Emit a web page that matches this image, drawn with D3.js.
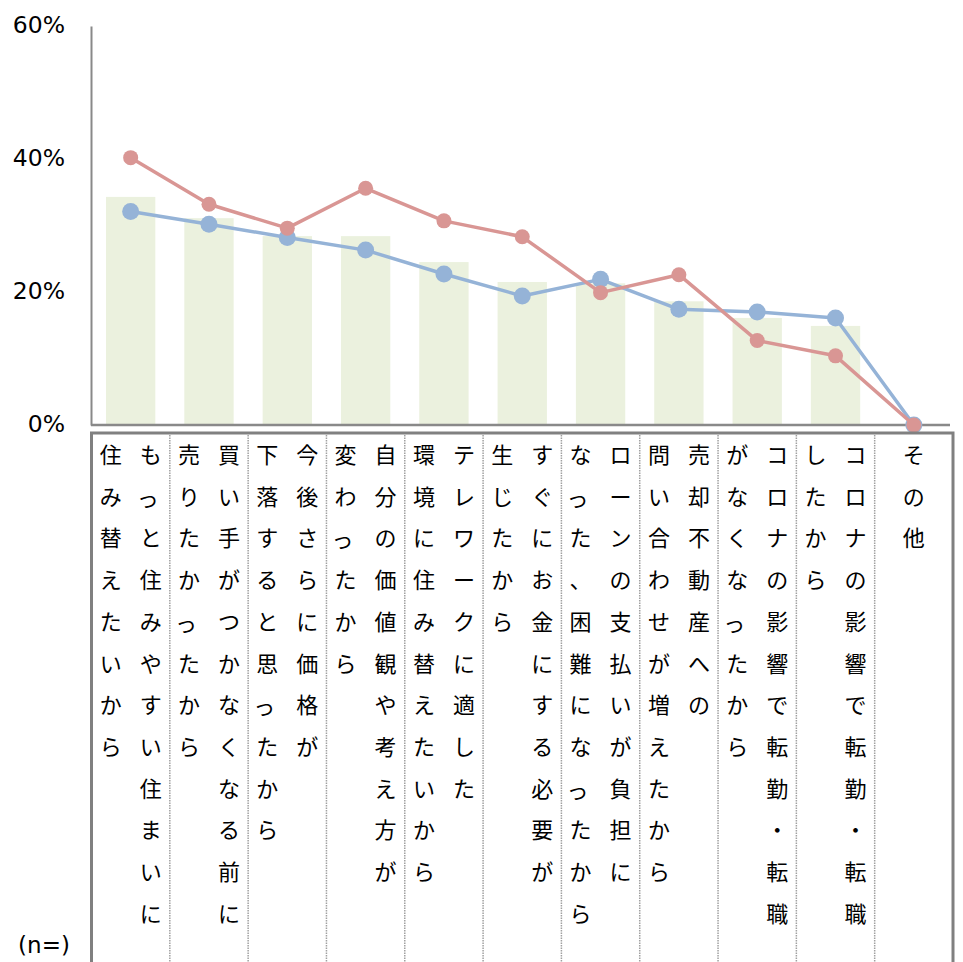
<!DOCTYPE html>
<html><head><meta charset="utf-8">
<script src="https://cdn.jsdelivr.net/npm/d3@7/dist/d3.min.js"></script>
<style>
html,body{margin:0;padding:0;background:#fff;overflow:hidden;}
svg{display:block;}
</style>
</head><body>
<svg id="chart" width="963" height="962"></svg>
<script>
// categories: each entry = [right column, left column] (read right column first)
const categories = [
  ["もっと住みやすい住まいに", "住み替えたいから"],
  ["買い手がつかなくなる前に", "売りたかったから"],
  ["今後さらに価格が", "下落すると思ったから"],
  ["自分の価値観や考え方が", "変わったから"],
  ["テレワークに適した", "環境に住み替えたいから"],
  ["すぐにお金にする必要が", "生じたから"],
  ["ローンの支払いが負担に", "なった、困難になったから"],
  ["売却不動産への", "問い合わせが増えたから"],
  ["コロナの影響で転勤・転職", "がなくなったから"],
  ["コロナの影響で転勤・転職", "したから"],
  ["その他"]
];
const barValues  = [34.3, 31.1, 28.4, 28.4, 24.5, 21.5, 21.3, 18.6, 16.1, 14.9, 0];
const redValues  = [40.2, 33.2, 29.6, 35.6, 30.7, 28.3, 19.9, 22.6, 12.7, 10.4, 0];
const blueValues = [32.1, 30.2, 28.2, 26.3, 22.7, 19.4, 21.9, 17.4, 17.0, 16.1, 0];
const yTicks = [0, 20, 40, 60];
const nLabel = "(n=)";

const svg = d3.select("#chart");
const keys = categories.map((c, i) => "c" + i);

const x = d3.scaleBand().domain(keys).range([91.5, 953]).paddingInner(0.37).paddingOuter(0.185);
const y = d3.scaleLinear().domain([0, 60]).range([425, 26]);
const cx = k => x(k) + x.bandwidth() / 2;

// bars
svg.append("g").selectAll("rect").data(barValues).join("rect")
  .attr("x", (d, i) => x(keys[i]))
  .attr("width", x.bandwidth())
  .attr("y", d => y(d))
  .attr("height", d => y(0) - y(d))
  .attr("fill", "#ebf1de");

// y axis
const yAxis = d3.axisLeft(y).tickValues(yTicks).tickFormat(d => d + "%").tickSize(0).tickPadding(26);
const gy = svg.append("g").attr("transform", "translate(91,0)").call(yAxis);
gy.select(".domain").attr("stroke", "#898989").attr("stroke-width", 2);
gy.selectAll("text").attr("font-family", "DejaVu Sans, sans-serif").attr("font-size", 23.5)
  .attr("fill", "#000").attr("dy", "0.28em");

// baseline
const xAxis = d3.axisBottom(x).tickSize(0).tickFormat("");
const gx = svg.append("g").attr("transform", "translate(0,425)").call(xAxis);
gx.select(".domain").attr("stroke", "#898989").attr("stroke-width", 2.5).attr("d", "M91,0H950");

// lines
function drawSeries(vals, color, r) {
  const line = d3.line().x((d, i) => cx(keys[i])).y(d => y(d));
  svg.append("path").datum(vals).attr("d", line)
    .attr("fill", "none").attr("stroke", color).attr("stroke-width", 3.5).attr("stroke-linejoin", "round");
  svg.append("g").selectAll("circle").data(vals).join("circle")
    .attr("cx", (d, i) => cx(keys[i])).attr("cy", d => y(d)).attr("r", r).attr("fill", color);
}
drawSeries(blueValues, "#95b3d7", 8.5);
drawSeries(redValues, "#d99694", 7.5);

// table
const tableTop = 433;
const step = x.step();
const left0 = 91.5;
const tbl = svg.append("g");
tbl.selectAll("line.sep").data(d3.range(1, categories.length)).join("line")
  .attr("class", "sep")
  .attr("x1", i => left0 + i * step).attr("x2", i => left0 + i * step)
  .attr("y1", tableTop + 2).attr("y2", 962)
  .attr("stroke", "#a0a0a0").attr("stroke-width", 1.5).attr("stroke-dasharray", "1.5,1");
tbl.append("rect").attr("x", left0).attr("y", tableTop).attr("width", 953 - left0).attr("height", 700)
  .attr("fill", "none").attr("stroke", "#808080").attr("stroke-width", 3);

// labels
const smallKana = new Set(["っ", "ゃ", "ゅ", "ょ", "ッ"]);
const rowY0 = 453, rowStep = 41.7;
categories.forEach((cols, i) => {
  const cellLeft = left0 + i * step;
  const colX = cols.length === 1 ? [cellLeft + step / 2] : [cellLeft + step / 2 + 20, cellLeft + step / 2 - 20];
  cols.forEach((str, j) => {
    Array.from(str).forEach((ch, k) => {
      const sk = smallKana.has(ch);
      tbl.append("text")
        .attr("x", colX[j] - (sk ? 3 : 0)).attr("y", rowY0 + k * rowStep + (sk ? 2 : 0))
        .attr("text-anchor", "middle").attr("dominant-baseline", "central")
        .attr("font-family", "Noto Sans CJK JP, sans-serif").attr("font-size", 22)
        .attr("fill", "#000").text(ch);
    });
  });
});

svg.append("text").attr("x", 44).attr("y", 945).attr("text-anchor", "middle").attr("dominant-baseline", "central")
  .attr("font-family", "DejaVu Sans, sans-serif").attr("font-size", 23).attr("fill", "#000").text(nLabel);
</script>
</body></html>
